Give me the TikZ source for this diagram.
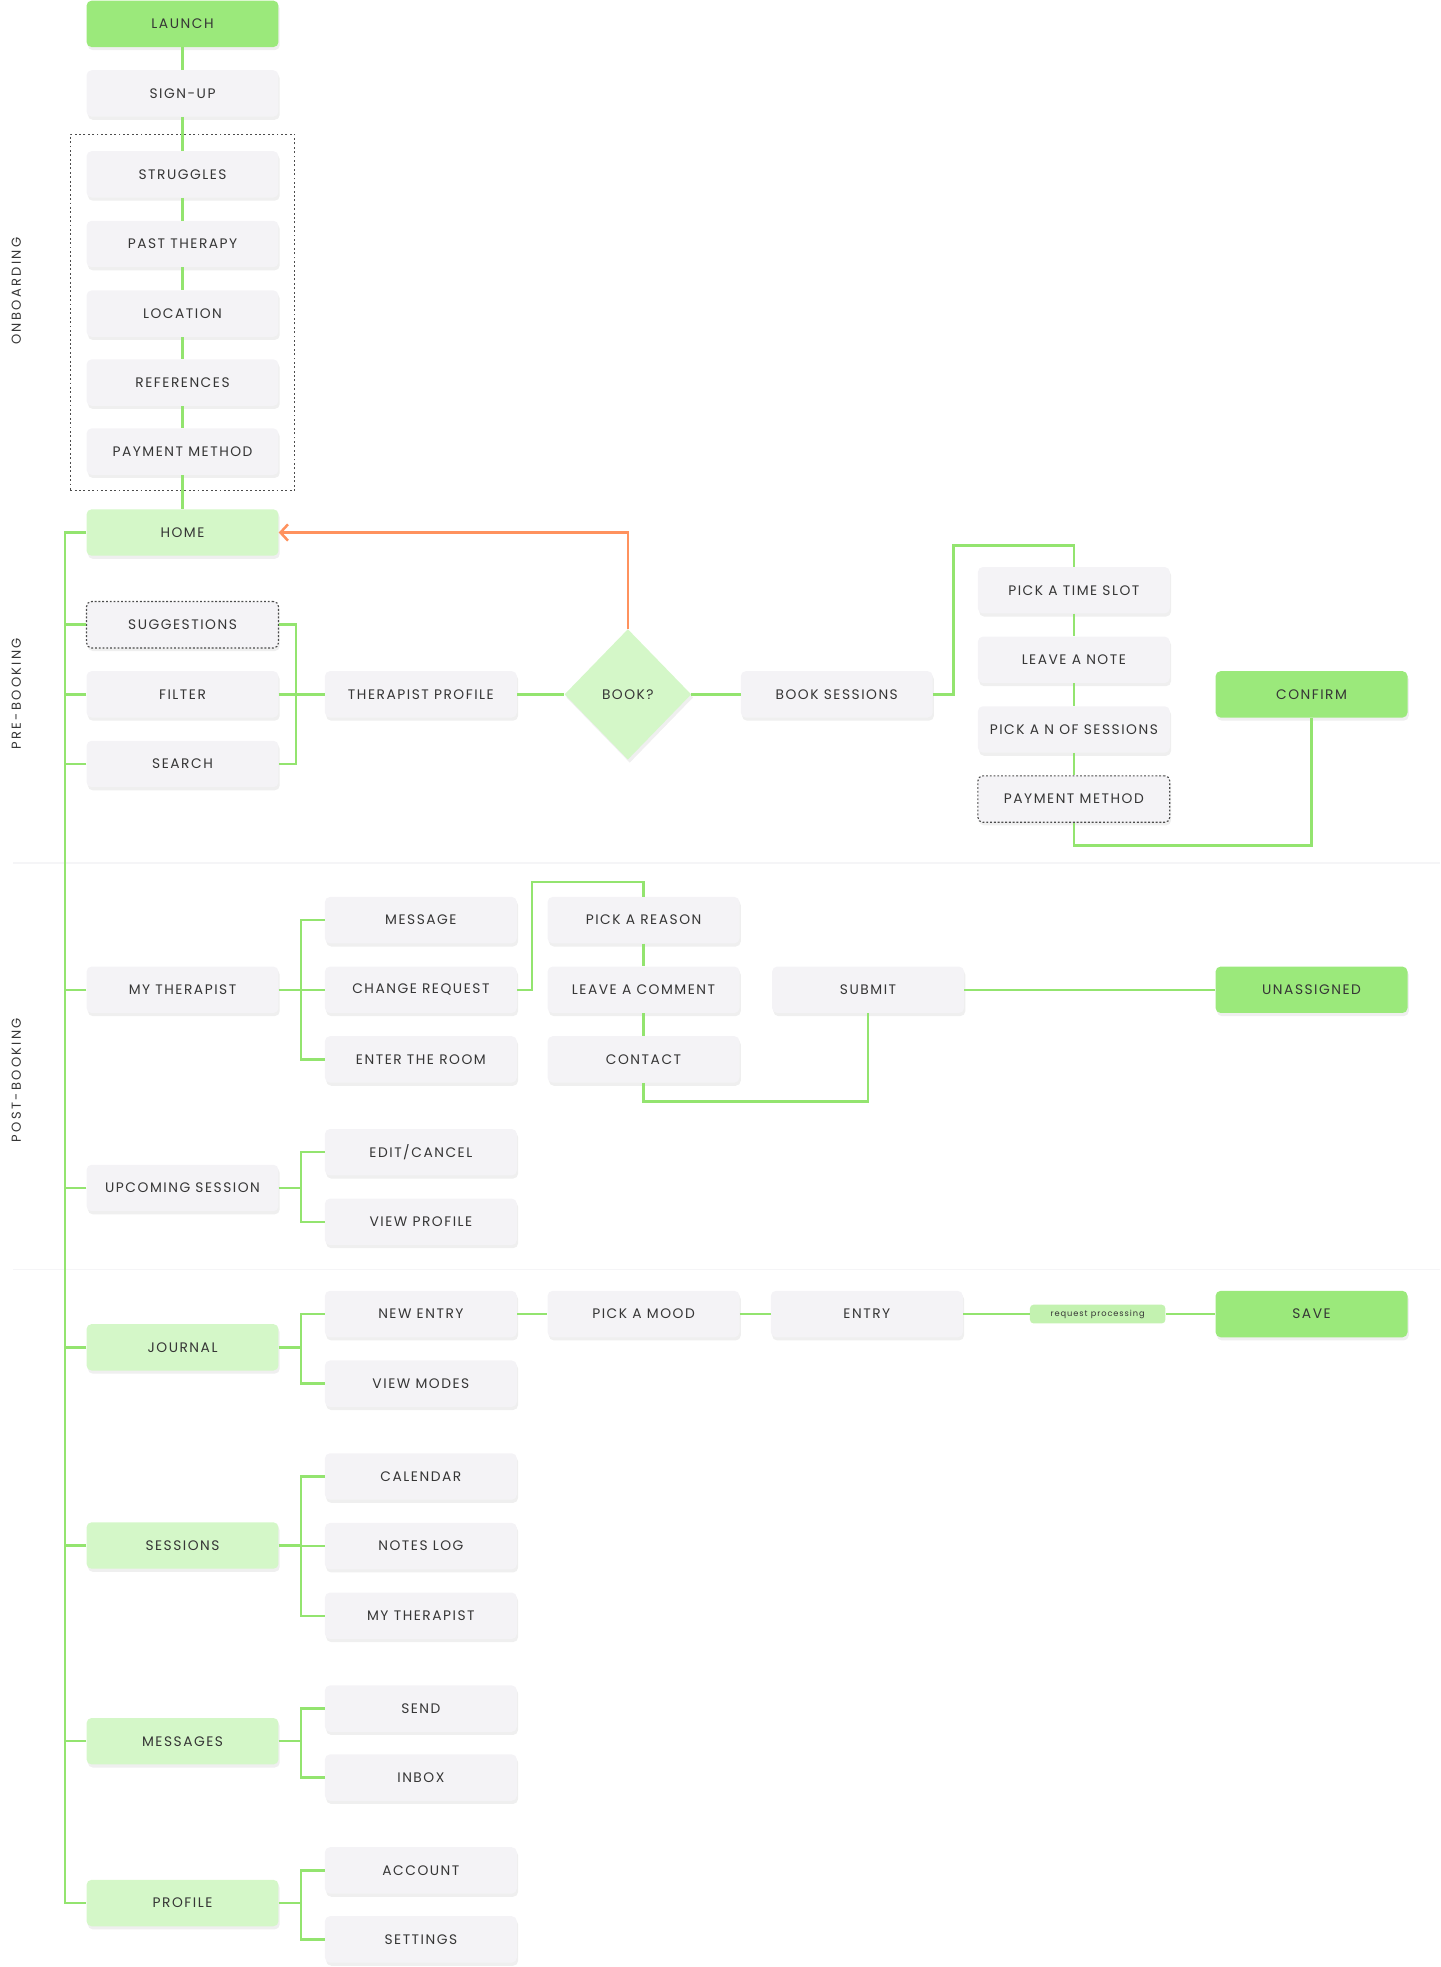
\documentclass[tikz,border=0pt]{standalone}
\usepackage{fontspec}
\newfontfamily\pop{Poppins}[LetterSpace=11]
\newfontfamily\popsec{Poppins}[LetterSpace=18]
\usetikzlibrary{shapes.geometric,arrows.meta,shadows}
\definecolor{boxgray}{HTML}{F4F3F6}
\definecolor{greenA}{HTML}{9BE97B}
\definecolor{greenB}{HTML}{D4F7C8}
\definecolor{lineg}{HTML}{93E46F}
\definecolor{orangec}{HTML}{FF925E}
\definecolor{txt}{HTML}{363636}
\definecolor{pillc}{HTML}{C3F2B0}
\definecolor{sepc}{HTML}{F5F5F7}
\begin{document}
\begin{tikzpicture}[x=1pt,y=-1pt,
  base/.style={rectangle, rounded corners=4pt, minimum width=153pt, minimum height=37pt, inner sep=0pt, text=txt,
    font=\pop\fontsize{11}{13}\selectfont,
    drop shadow={shadow xshift=1pt, shadow yshift=-2.5pt, opacity=0.16, fill=black!40}},
  stepbox/.style={base, fill=boxgray},
  hub/.style={base, fill=greenB},
  goal/.style={base, fill=greenA},
  optbox/.style={base, fill=boxgray, draw=black!70, dash pattern=on 1.5pt off 1.5pt, line width=0.9pt},
  conn/.style={draw=lineg, line width=2pt},
  back/.style={draw=orangec, line width=2pt, -{Straight Barb[length=6pt,width=13pt]}},
  seclabel/.style={rotate=90, text=txt, font=\popsec\fontsize{10.4}{12}\selectfont},
  sepline/.style={draw=sepc, line width=1pt}
]
\useasboundingbox (0,0) rectangle (1148,1568);

% separators
\draw[sepline] (10,688) -- (1148,688);
\draw[sepline] (10,1012) -- (1148,1012);

% section labels
\node[seclabel] (lonb) at (13,232) {ONBOARDING};
\node[seclabel] (lpre) at (13,553) {PRE-BOOKING};
\node[seclabel] (lpost) at (13,861) {POST-BOOKING};

% onboarding dotted frame
\node[draw=black!70, dash pattern=on 1.5pt off 2pt, line width=0.9pt, minimum width=179pt, minimum height=284pt, inner sep=0pt] (obox) at (145.5,249) {};

% column 1
\node[goal] (launch) at (145.5,19) {LAUNCH};
\node[stepbox] (signup) at (145.5,74.5) {SIGN-UP};
\node[stepbox] (strug) at (145.5,139) {STRUGGLES};
\node[stepbox] (past) at (145.5,194.5) {PAST THERAPY};
\node[stepbox] (loc) at (145.5,250) {LOCATION};
\node[stepbox] (refs) at (145.5,305) {REFERENCES};
\node[stepbox] (pay) at (145.5,360) {PAYMENT METHOD};
\node[hub] (home) at (145.5,424.5) {HOME};
\node[optbox] (sugg) at (145.5,498) {SUGGESTIONS};
\node[stepbox] (filter) at (145.5,553.5) {FILTER};
\node[stepbox] (search) at (145.5,609) {SEARCH};
\node[stepbox] (mythe) at (145.5,789) {MY THERAPIST};
\node[stepbox] (upc) at (145.5,947) {UPCOMING SESSION};
\node[hub] (journal) at (145.5,1074) {JOURNAL};
\node[hub] (sessions) at (145.5,1232) {SESSIONS};
\node[hub] (messages) at (145.5,1388) {MESSAGES};
\node[hub] (profile) at (145.5,1517) {PROFILE};

% column 2
\node[stepbox] (tprof) at (335.5,553.5) {THERAPIST PROFILE};
\node[stepbox] (msg) at (335.5,733.5) {MESSAGE};
\node[stepbox] (creq) at (335.5,789) {CHANGE REQUEST};
\node[stepbox] (room) at (335.5,844.5) {ENTER THE ROOM};
\node[stepbox] (edit) at (335.5,918.5) {EDIT/CANCEL};
\node[stepbox] (vprof) at (335.5,974) {VIEW PROFILE};
\node[stepbox] (nentry) at (335.5,1047.5) {NEW ENTRY};
\node[stepbox] (vmodes) at (335.5,1103) {VIEW MODES};
\node[stepbox] (cal) at (335.5,1177) {CALENDAR};
\node[stepbox] (notes) at (335.5,1232.5) {NOTES LOG};
\node[stepbox] (mythe2) at (335.5,1288) {MY THERAPIST};
\node[stepbox] (send) at (335.5,1362) {SEND};
\node[stepbox] (inbox) at (335.5,1417) {INBOX};
\node[stepbox] (acc) at (335.5,1491) {ACCOUNT};
\node[stepbox] (sett) at (335.5,1546) {SETTINGS};

% decision
\node[diamond, fill=greenB, minimum width=101pt, minimum height=104pt, inner sep=0pt, text=txt,
  font=\pop\fontsize{11}{13}\selectfont,
  drop shadow={shadow xshift=1.5pt, shadow yshift=-2.5pt, opacity=0.16, fill=black!40}] (book) at (500.5,553.5) {BOOK?};

% column 3 / 4
\node[stepbox] (bsess) at (667,553.5) {BOOK SESSIONS};
\node[stepbox] (slot) at (856,470.5) {PICK A TIME SLOT};
\node[stepbox] (note) at (856,526) {LEAVE A NOTE};
\node[stepbox] (nsess) at (856,581.5) {PICK A N OF SESSIONS};
\node[optbox] (pay2) at (856,637) {PAYMENT METHOD};
\node[goal] (confirm) at (1045.5,553.5) {CONFIRM};

\node[stepbox] (reason) at (513,733.5) {PICK A REASON};
\node[stepbox] (comment) at (513,789) {LEAVE A COMMENT};
\node[stepbox] (contact) at (513,844.5) {CONTACT};
\node[stepbox] (submit) at (692,789) {SUBMIT};
\node[goal] (unass) at (1045.5,789) {UNASSIGNED};

\node[stepbox] (mood) at (513,1047.5) {PICK A MOOD};
\node[stepbox] (entry) at (691,1047.5) {ENTRY};
\node[rectangle, rounded corners=3pt, fill=pillc, minimum width=108pt, minimum height=15pt, inner sep=0pt, text=txt,
  font=\pop\fontsize{6.6}{7}\selectfont] (proc) at (875,1047.5) {request processing};
\node[goal] (save) at (1045.5,1047.5) {SAVE};

% onboarding chain
\draw[conn] (launch.south) -- (signup.north);
\draw[conn] (signup.south) -- (strug.north);
\draw[conn] (strug.south) -- (past.north);
\draw[conn] (past.south) -- (loc.north);
\draw[conn] (loc.south) -- (refs.north);
\draw[conn] (refs.south) -- (pay.north);
\draw[conn] (pay.south) -- (home.north);

% spine
\coordinate (spx) at (52,0);
\draw[conn] (home.west) -- (home.west -| spx) -- (profile.west -| spx) -- (profile.west);
\foreach \n in {sugg,filter,search,mythe,upc,journal,sessions,messages}
  \draw[conn] (\n.west) -- (\n.west -| spx);

% pre-booking
\coordinate (bxa) at (236,0);
\draw[conn] (sugg.east) -- (sugg.east -| bxa) -- (search.east -| bxa) -- (search.east);
\draw[conn] (filter.east) -- (tprof.west);
\draw[conn] (tprof.east) -- (book.west);
\draw[conn] (book.east) -- (bsess.west);
\draw[back] (book.north) |- (home.east);
\coordinate (ca) at (760,435);
\draw[conn] (bsess.east) -| (ca) -| (slot.north);
\draw[conn] (slot.south) -- (note.north);
\draw[conn] (note.south) -- (nsess.north);
\draw[conn] (nsess.south) -- (pay2.north);
\draw[conn] (pay2.south) |- (confirm.south |- 0,674) -- (confirm.south);

% brackets
\coordinate (bx) at (240,0);
\newcommand{\bracketto}[3]{%
  \draw[conn] (#1.east) -- (#1.east -| bx);
  \draw[conn] (#2.west) -- (#2.west -| bx) -- (#3.west -| bx) -- (#3.west);}
\bracketto{mythe}{msg}{room}
\draw[conn] (creq.west) -- (creq.west -| bx);
\bracketto{upc}{edit}{vprof}
\bracketto{journal}{nentry}{vmodes}
\bracketto{sessions}{cal}{mythe2}
\draw[conn] (notes.west) -- (notes.west -| bx);
\bracketto{messages}{send}{inbox}
\bracketto{profile}{acc}{sett}

% change request flow
\coordinate (cb) at (424,703);
\draw[conn] (creq.east) -| (cb) -| (reason.north);
\draw[conn] (reason.south) -- (comment.north);
\draw[conn] (comment.south) -- (contact.north);
\draw[conn] (contact.south) |- (submit.south |- 0,878) -- (submit.south);
\draw[conn] (submit.east) -- (unass.west);

% journal flow
\draw[conn] (nentry.east) -- (mood.west);
\draw[conn] (mood.east) -- (entry.west);
\draw[conn] (entry.east) -- (proc.west);
\draw[conn] (proc.east) -- (save.west);
\end{tikzpicture}
\end{document}
